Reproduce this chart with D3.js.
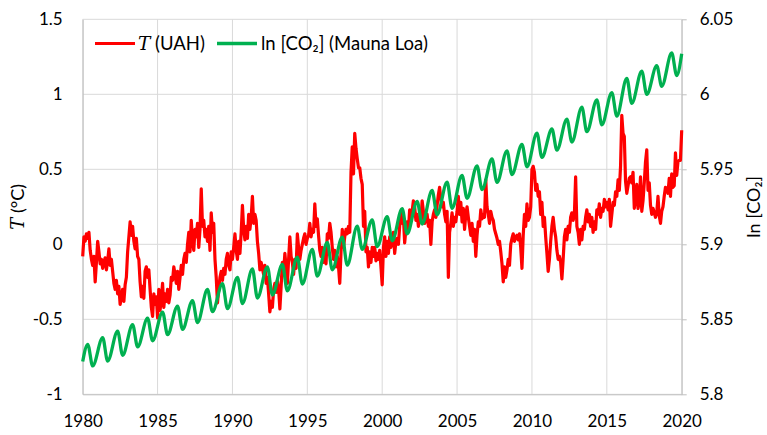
<!DOCTYPE html>
<html>
<head>
<meta charset="utf-8">
<script src="https://cdn.jsdelivr.net/npm/d3@7"></script>
<style>
  body { margin: 0; background: #fff; }
  text { font-family: Lato, "Open Sans", sans-serif; fill: #000; }
</style>
</head>
<body>
<svg id="chart" width="767" height="435"></svg>
<script>
// UAH lower troposphere anomaly, one value per month from 1980.0 to 2020.0
var tempUAH = [
  -0.08, 0.05, 0.02, 0.07, 0.04, 0.08, -0.04, -0.10, -0.14, -0.08, -0.25, -0.12, // 1980
  0.02, -0.05, -0.13, -0.10, -0.16, -0.12, -0.09, -0.17, -0.11, -0.03, -0.14, -0.10, // 1981
  -0.18, -0.26, -0.30, -0.24, -0.33, -0.28, -0.40, -0.36, -0.30, -0.38, -0.27, -0.22, // 1982
  -0.05, 0.05, 0.15, 0.06, 0.12, 0.02, -0.03, 0.04, -0.08, -0.10, -0.25, -0.35, // 1983
  -0.28, -0.36, -0.18, -0.15, -0.22, -0.17, -0.30, -0.42, -0.48, -0.33, -0.40, -0.35, // 1984
  -0.49, -0.30, -0.44, -0.36, -0.26, -0.42, -0.33, -0.38, -0.30, -0.39, -0.34, -0.22, // 1985
  -0.24, -0.15, -0.20, -0.26, -0.18, -0.30, -0.22, -0.14, -0.20, -0.10, -0.06, -0.12, // 1986
  0.00, 0.08, -0.05, 0.16, 0.02, -0.04, 0.10, 0.05, 0.14, -0.02, 0.10, 0.37, // 1987
  0.12, 0.16, 0.05, 0.10, 0.02, 0.12, -0.04, 0.21, 0.08, 0.14, -0.10, -0.22, // 1988
  -0.39, -0.30, -0.22, -0.18, -0.24, -0.16, -0.20, -0.10, -0.06, -0.14, -0.17, -0.05, // 1989
  -0.10, -0.02, 0.07, -0.04, -0.10, 0.02, -0.06, 0.08, 0.26, 0.10, 0.03, 0.12, // 1990
  0.04, 0.20, 0.10, 0.18, 0.32, 0.14, 0.20, 0.16, 0.02, -0.06, -0.17, -0.12, // 1991
  -0.16, -0.20, -0.14, -0.26, -0.22, -0.33, -0.45, -0.38, -0.42, -0.30, -0.26, -0.32, // 1992
  -0.24, -0.30, -0.43, -0.28, -0.12, -0.19, -0.06, -0.15, -0.26, -0.10, 0.05, -0.08, // 1993
  -0.12, -0.20, -0.10, -0.16, 0.07, -0.02, -0.10, -0.04, 0.00, 0.04, 0.07, 0.00, // 1994
  0.04, 0.06, 0.14, 0.05, 0.10, 0.08, 0.27, 0.12, 0.17, 0.06, -0.04, -0.08, // 1995
  -0.02, -0.12, -0.05, -0.13, 0.07, 0.04, 0.14, 0.08, -0.02, -0.10, -0.04, -0.15, // 1996
  -0.08, -0.15, -0.26, -0.05, 0.10, -0.02, 0.05, 0.10, 0.07, 0.12, 0.08, 0.48, // 1997
  0.65, 0.47, 0.74, 0.64, 0.57, 0.51, 0.51, 0.44, 0.40, 0.12, 0.22, -0.05, // 1998
  -0.02, -0.15, -0.05, -0.12, -0.02, -0.08, -0.02, -0.11, -0.06, -0.10, -0.04, -0.15, // 1999
  -0.27, -0.02, 0.05, -0.08, 0.02, -0.06, 0.05, -0.02, 0.03, 0.08, -0.06, 0.02, // 2000
  0.04, 0.00, 0.12, 0.21, 0.14, 0.18, 0.01, 0.10, 0.15, 0.10, 0.23, 0.17, // 2001
  0.22, 0.29, 0.25, 0.16, 0.20, 0.12, 0.18, 0.16, 0.29, 0.22, 0.14, 0.18, // 2002
  0.20, 0.12, 0.16, 0.00, 0.15, 0.20, 0.23, 0.18, 0.26, 0.33, 0.38, 0.30, // 2003
  0.25, 0.28, 0.20, 0.15, 0.22, -0.22, 0.08, 0.14, 0.21, 0.12, 0.18, 0.15, // 2004
  0.22, 0.32, 0.20, 0.28, 0.15, 0.24, 0.10, 0.20, 0.25, 0.18, 0.12, 0.06, // 2005
  0.14, 0.02, 0.10, -0.08, 0.06, 0.15, 0.12, 0.23, 0.17, 0.20, 0.18, 0.43, // 2006
  0.25, 0.20, 0.14, 0.22, 0.18, 0.16, 0.10, 0.07, 0.04, 0.00, 0.02, -0.05, // 2007
  -0.13, -0.25, -0.15, -0.22, -0.17, -0.10, -0.14, 0.00, 0.04, 0.07, 0.02, 0.05, // 2008
  0.06, 0.03, 0.07, -0.02, -0.16, 0.06, 0.20, 0.12, 0.27, 0.16, 0.18, 0.25, // 2009
  0.50, 0.52, 0.48, 0.36, 0.40, 0.32, 0.35, 0.20, 0.28, 0.12, 0.18, 0.05, // 2010
  -0.06, -0.18, -0.10, 0.02, 0.12, 0.18, 0.10, 0.05, -0.04, -0.10, -0.08, -0.12, // 2011
  -0.23, -0.10, 0.05, 0.10, 0.03, 0.12, 0.08, 0.18, 0.21, 0.16, 0.20, 0.45, // 2012
  0.12, 0.08, 0.00, 0.10, 0.03, 0.12, 0.10, 0.18, 0.23, 0.15, 0.20, 0.12, // 2013
  0.18, 0.08, 0.15, 0.10, 0.23, 0.20, 0.27, 0.18, 0.24, 0.22, 0.30, 0.25, // 2014
  0.28, 0.23, 0.30, 0.12, 0.20, 0.28, 0.26, 0.35, 0.32, 0.43, 0.36, 0.52, // 2015
  0.86, 0.74, 0.72, 0.42, 0.34, 0.39, 0.44, 0.45, 0.41, 0.48, 0.24, 0.30, // 2016
  0.40, 0.24, 0.28, 0.45, 0.22, 0.29, 0.41, 0.55, 0.63, 0.36, 0.41, 0.26, // 2017
  0.20, 0.24, 0.21, 0.18, 0.21, 0.32, 0.19, 0.14, 0.22, 0.25, 0.32, 0.38, // 2018
  0.37, 0.34, 0.44, 0.32, 0.47, 0.38, 0.39, 0.61, 0.46, 0.55, 0.56, 0.56, // 2019
  0.76 // 2020
];
var tempStartYear = 1980;

// Mauna Loa CO2 (ppm): seasonal high (May) and low (September) of each year
var co2Years = d3.range(1980, 2020);
var co2May = [341.5, 343.0, 344.5, 346.0, 347.5, 348.9, 350.3, 351.6, 354.2, 355.6,
              357.1, 359.1, 359.6, 360.2, 361.9, 363.8, 365.5, 366.8, 369.5, 371.0,
              371.8, 373.8, 375.6, 378.4, 380.5, 382.2, 384.6, 386.4, 388.5, 390.2,
              393.1, 394.2, 396.8, 400.0, 401.9, 403.9, 407.7, 409.7, 411.2, 414.7];
var co2Sep = [336.6, 337.7, 339.0, 340.9, 342.3, 343.7, 344.9, 346.5, 349.0, 349.7,
              350.9, 352.2, 352.9, 353.9, 355.5, 357.4, 358.9, 360.0, 363.8, 364.5,
              365.9, 367.6, 370.0, 372.3, 373.9, 376.4, 378.6, 380.4, 382.4, 384.4,
              386.8, 388.7, 390.8, 393.5, 395.3, 397.6, 401.0, 403.4, 405.6, 408.5];
var co2First = 337.6;  // January 1980
var co2Last = 414.5;   // January 2020
var mayMonth = 5, sepMonth = 9;

var yearTicks = [1980, 1985, 1990, 1995, 2000, 2005, 2010, 2015, 2020];
var tTicks = [-1, -0.5, 0, 0.5, 1, 1.5];
var co2Ticks = [5.8, 5.85, 5.9, 5.95, 6, 6.05];

var svg = d3.select("#chart");
var margin = {left: 82.7, right: 767 - 681.7, top: 19.3, bottom: 435 - 394.3};
var W = 767, H = 435;

var x = d3.scaleLinear().domain([1980, 2020]).range([margin.left, W - margin.right]);
var yT = d3.scaleLinear().domain([-1, 1.5]).range([H - margin.bottom, margin.top]);
var yC = d3.scaleLinear().domain([5.8, 6.05]).range([H - margin.bottom, margin.top]);

// gridlines
svg.append("g").selectAll("line").data(tTicks).enter().append("line")
  .attr("x1", x(1980)).attr("x2", x(2020))
  .attr("y1", d => yT(d)).attr("y2", d => yT(d))
  .attr("stroke", "#d9d9d9").attr("stroke-width", 1);
svg.append("g").selectAll("line").data(yearTicks).enter().append("line")
  .attr("x1", d => x(d)).attr("x2", d => x(d))
  .attr("y1", yT(1.5)).attr("y2", yT(-1))
  .attr("stroke", "#d9d9d9").attr("stroke-width", 1);

// axes
var fmt = d => String(+d.toFixed(2));

var gL = svg.append("g").attr("transform", "translate(" + x(1980) + ",0)")
  .call(d3.axisLeft(yT).tickValues(tTicks).tickFormat(fmt).tickSize(0).tickPadding(20));
var gR = svg.append("g").attr("transform", "translate(" + x(2020) + ",0)")
  .call(d3.axisRight(yC).tickValues(co2Ticks).tickFormat(fmt).tickSizeInner(5).tickSizeOuter(0).tickPadding(13));
var gB = svg.append("g").attr("transform", "translate(0," + yT(-1) + ")")
  .call(d3.axisBottom(x).tickValues(yearTicks).tickFormat(d3.format("d")).tickSize(0).tickPadding(21));

[gL, gR, gB].forEach(function (g) {
  g.selectAll("text").attr("font-size", 17).attr("font-family", "Lato, 'Open Sans', sans-serif").attr("fill", "#000");
  g.selectAll("line").attr("stroke", "#bfbfbf");
  g.select(".domain").attr("stroke", "#bfbfbf");
});

// temperature line
var tempPoints = tempUAH.map((v, i) => ({t: tempStartYear + i / 12, v: v}));
svg.append("path")
  .datum(tempPoints)
  .attr("fill", "none")
  .attr("stroke", "#ff0000")
  .attr("stroke-width", 3.2)
  .attr("stroke-linejoin", "round")
  .attr("d", d3.line().x(d => x(d.t)).y(d => yT(d.v)));

// ln CO2 line
var co2Points = [{t: 1980, v: co2First}];
co2Years.forEach(function (yr, i) {
  co2Points.push({t: yr + (mayMonth - 1) / 12, v: co2May[i]});
  co2Points.push({t: yr + (sepMonth - 1) / 12, v: co2Sep[i]});
});
co2Points.push({t: 2020, v: co2Last});

svg.append("path")
  .datum(co2Points)
  .attr("fill", "none")
  .attr("stroke", "#00b050")
  .attr("stroke-width", 3.3)
  .attr("stroke-linejoin", "round")
  .attr("d", d3.line().curve(d3.curveMonotoneX).x(d => x(d.t)).y(d => yC(Math.log(d.v))));

// axis titles
var lt = svg.append("text")
  .attr("transform", "translate(24," + ((yT(1.5) + yT(-1)) / 2) + ") rotate(-90)")
  .attr("text-anchor", "middle").attr("font-size", 18);
lt.append("tspan").attr("font-family", "'DejaVu Serif', serif").attr("font-style", "italic").text("T");
lt.append("tspan").text(" (°C)");

svg.append("text")
  .attr("transform", "translate(760," + ((yT(1.5) + yT(-1)) / 2) + ") rotate(-90)")
  .attr("text-anchor", "middle").attr("font-size", 18)
  .text("ln [CO₂]");

// legend
var leg = svg.append("g");
leg.append("line").attr("x1", 95).attr("x2", 135).attr("y1", 43.5).attr("y2", 43.5)
  .attr("stroke", "#ff0000").attr("stroke-width", 3);
var l1 = leg.append("text").attr("x", 138).attr("y", 49.5).attr("font-size", 18.5);
l1.append("tspan").attr("font-family", "'DejaVu Serif', serif").attr("font-style", "italic").text("T");
l1.append("tspan").text(" (UAH)");
leg.append("line").attr("x1", 217).attr("x2", 257).attr("y1", 43.5).attr("y2", 43.5)
  .attr("stroke", "#00b050").attr("stroke-width", 3.3);
leg.append("text").attr("x", 261).attr("y", 49.5).attr("font-size", 18.5)
  .text("ln [CO₂] (Mauna Loa)");
</script>
</body>
</html>
